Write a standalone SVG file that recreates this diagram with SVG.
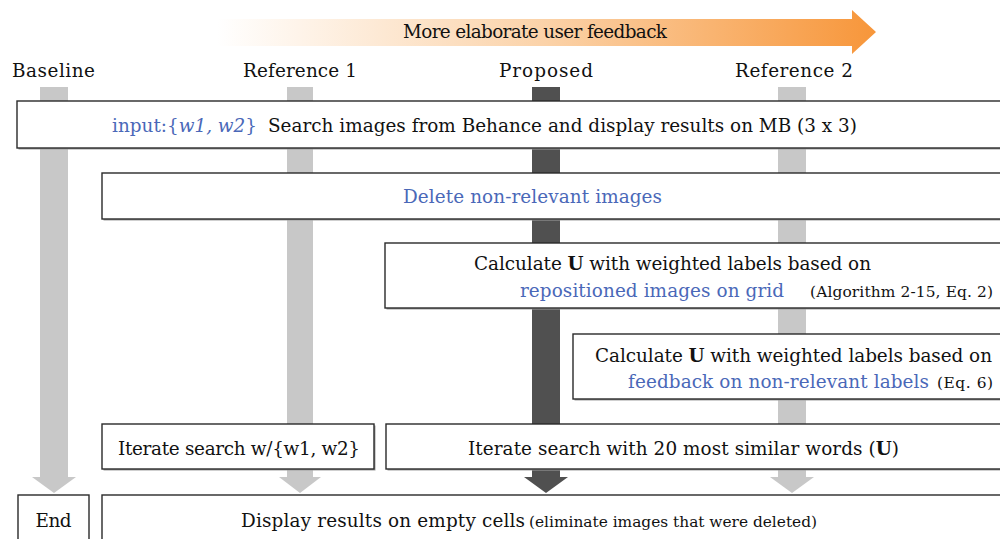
<svg xmlns="http://www.w3.org/2000/svg" width="1000" height="539" viewBox="0 0 1000 539">
<defs>
<linearGradient id="og" x1="217" y1="0" x2="876" y2="0" gradientUnits="userSpaceOnUse">
<stop offset="0" stop-color="#FFFFFF"/>
<stop offset="0.5" stop-color="#FBD2A8"/>
<stop offset="1" stop-color="#F7963A"/>
</linearGradient>
<style>
text{font-family:"DejaVu Serif","Liberation Serif",serif;fill:#111;}
.m{font-size:18.4px;}
.s{font-size:15.4px;}
.b{fill:#4A68B8;}
.box{fill:#fff;stroke:#2a2a2a;stroke-width:1.4;}
.sh{fill:#a0a0a0;}
.lg{fill:#C8C8C8;}
.dk{fill:#505050;}
</style>
</defs>
<rect width="1000" height="539" fill="#fff"/>

<g id="feedback-arrow">
<path d="M217 19 H852 V10 L876 32 L852 54 V46 H217 Z" fill="url(#og)"/>
<text class="m" x="535" y="38" text-anchor="middle" textLength="264">More elaborate user feedback</text>
</g>

<g id="column-labels">
<text class="m" x="53.5" y="77" text-anchor="middle" textLength="83">Baseline</text>
<text class="m" x="300" y="77" text-anchor="middle" textLength="114">Reference 1</text>
<text class="m" x="546" y="77" text-anchor="middle" textLength="94">Proposed</text>
<text class="m" x="794" y="77" text-anchor="middle" textLength="118">Reference 2</text>
</g>

<g id="connectors">
<path class="lg" d="M40 87 H68 V477 H76 L54 493 L32 477 H40 Z"/>
<path class="lg" d="M287 87 H313 V477 H321 L300 493 L279 477 H287 Z"/>
<path class="dk" d="M532 87 H560 V477 H568 L546 493 L524 477 H532 Z"/>
<path class="lg" d="M778 87 H806 V477 H814 L792 493 L770 477 H778 Z"/>
</g>

<g id="search">
<rect class="sh" x="18.5" y="102.5" width="990" height="47"/>
<rect class="box" x="17" y="101" width="990" height="47"/>
<text class="m b" x="112" y="132" textLength="145">input:{<tspan font-style="italic">w1, w2</tspan>}</text>
<text class="m" x="268" y="132" textLength="589">Search images from Behance and display results on MB (3 x 3)</text>
</g>

<g id="delete">
<rect class="sh" x="103.5" y="174.5" width="900" height="46"/>
<rect class="box" x="102" y="173" width="900" height="46"/>
<text class="m b" x="532.5" y="203" text-anchor="middle" textLength="259">Delete non-relevant images</text>
</g>

<g id="calc-grid">
<rect class="sh" x="386.5" y="244.5" width="620" height="65"/>
<rect class="box" x="385" y="243" width="620" height="65"/>
<text class="m" x="474" y="270" textLength="397">Calculate <tspan font-weight="bold">U</tspan> with weighted labels based on</text>
<text class="m b" x="520" y="297" textLength="264">repositioned images on grid</text>
<text class="s" x="810" y="297" textLength="183">(Algorithm 2-15, Eq. 2)</text>
</g>

<g id="calc-feedback">
<rect class="sh" x="574.5" y="335.5" width="430" height="65"/>
<rect class="box" x="573" y="334" width="430" height="65"/>
<text class="m" x="595" y="362" textLength="397">Calculate <tspan font-weight="bold">U</tspan> with weighted labels based on</text>
<text class="m b" x="628" y="388" textLength="301">feedback on non-relevant labels</text>
<text class="s" x="937" y="388" textLength="56">(Eq. 6)</text>
</g>

<g id="iterate-w">
<rect class="sh" x="103.5" y="425.5" width="272" height="45"/>
<rect class="box" x="102" y="424" width="272" height="45"/>
<text class="m" x="239" y="455" text-anchor="middle" textLength="242">Iterate search w/{w1, w2}</text>
</g>

<g id="iterate-u">
<rect class="sh" x="387.5" y="425.5" width="620" height="45"/>
<rect class="box" x="386" y="424" width="620" height="45"/>
<text class="m" x="468" y="455" textLength="431">Iterate search with 20 most similar words (<tspan font-weight="bold">U</tspan>)</text>
</g>

<g id="end">
<rect class="box" x="18" y="495" width="71" height="60"/>
<text class="m" x="53.5" y="527" text-anchor="middle" textLength="36">End</text>
</g>

<g id="display">
<rect class="box" x="102" y="495" width="905" height="60"/>
<text class="m" x="241" y="527" textLength="284">Display results on empty cells</text>
<text class="s" x="529" y="527" textLength="288">(eliminate images that were deleted)</text>
</g>
</svg>
